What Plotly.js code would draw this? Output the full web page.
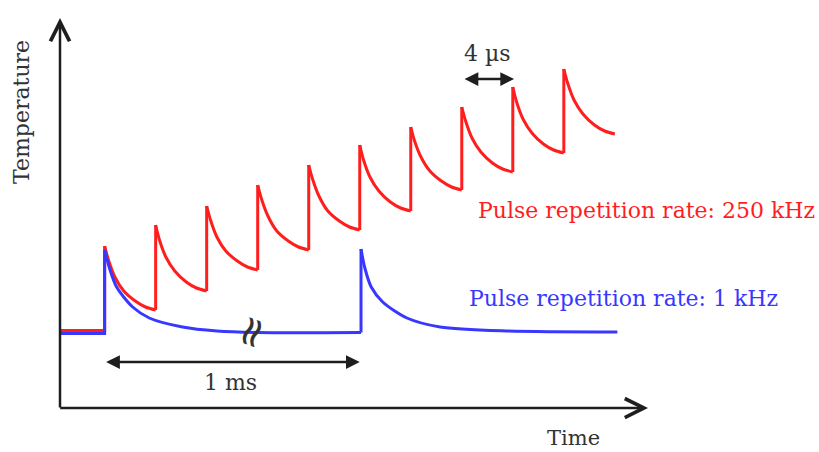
<!DOCTYPE html>
<html>
<head>
<meta charset="utf-8">
<script src="https://cdn.plot.ly/plotly-3.0.1.min.js"></script>
<style>html,body{margin:0;padding:0;background:#fff;}#chart{width:819px;height:452px;}</style>
</head>
<body>
<div id="chart"></div>
<script>
// ---- Data (time in µs-like arbitrary units, temperature in arbitrary units) ----
const redPreT = [-3.5, 0];
const redPreTemp = [7.75, 7.75];
const redPulseT = [0, 4, 8, 12, 16, 20, 24, 28, 32, 36];
const redBefore = [7.75, 9.8, 11.7, 13.8, 15.8, 17.8, 19.7, 21.8, 23.6, 25.5];
const redPeak = [16.2, 18.3, 20.2, 22.3, 24.3, 26.3, 28.1, 30.1, 32.1, 33.9];
const decayOffsets = [0, 0.3, 0.8, 1.5, 2.4, 3.2, 4.0];
const redDecayTemp = [
  [16.2, 14.8, 13.1, 11.7, 10.7, 10.1, 9.8],
  [18.3, 16.8, 15.1, 13.7, 12.6, 12.0, 11.7],
  [20.2, 18.8, 17.1, 15.7, 14.7, 14.1, 13.8],
  [22.3, 20.9, 19.2, 17.7, 16.7, 16.1, 15.8],
  [24.3, 22.9, 21.2, 19.7, 18.7, 18.1, 17.8],
  [26.3, 24.8, 23.1, 21.7, 20.6, 20.0, 19.7],
  [28.1, 26.7, 25.1, 23.7, 22.7, 22.1, 21.8],
  [30.1, 28.7, 27.0, 25.6, 24.5, 23.9, 23.6],
  [32.1, 30.6, 28.9, 27.5, 26.4, 25.8, 25.5],
  [33.9, 32.5, 30.8, 29.4, 28.3, 27.7, 27.4]
];

const bluePreT = [-3.5, 0];
const bluePreTemp = [7.45, 7.45];
const bluePulseT = [0, 20.1];
const blueBefore = [7.45, 7.55];
const bluePeak = [15.8, 15.9];
const blueDecayT = [
  [0, 0.4, 0.94, 2.2, 3.5, 6.1, 8.8, 12.0, 20.1],
  [20.1, 20.4, 20.9, 21.8, 23.7, 26.3, 31.5, 40.2]
];
const blueDecayTemp = [
  [15.8, 13.9, 12.1, 10.1, 9.0, 8.1, 7.7, 7.55, 7.55],
  [15.9, 14.0, 12.1, 10.6, 9.0, 8.1, 7.7, 7.6]
];

const labels = {
  yTitle: 'Temperature',
  xTitle: 'Time',
  red: 'Pulse repetition rate: 250 kHz',
  blue: 'Pulse repetition rate: 1 kHz',
  longSpan: '1 ms',
  shortSpan: '4 µs'
};

// ---- Build traces ----
const RED = 'rgb(255,30,30)';
const BLUE = 'rgb(55,55,255)';
const INK = '#1e1e1e';

function risesTrace(preT, preTemp, pulseT, before, peak, color) {
  const x = [], y = [];
  x.push(preT[0], preT[1]); y.push(preTemp[0], preTemp[1]);
  pulseT.forEach((t, i) => {
    if (i > 0) { x.push(null); y.push(null); }
    x.push(t, t); y.push(before[i], peak[i]);
  });
  return {x, y, type: 'scatter', mode: 'lines', line: {color, width: 3, shape: 'linear'}, hoverinfo: 'skip', showlegend: false};
}

function decayTrace(xs, ys, color) {
  const x = [], y = [];
  xs.forEach((arr, i) => {
    if (i > 0) { x.push(null); y.push(null); }
    arr.forEach((v, j) => { x.push(v); y.push(ys[i][j]); });
  });
  return {x, y, type: 'scatter', mode: 'lines', line: {color, width: 3, shape: 'spline', smoothing: 0.8}, connectgaps: false, hoverinfo: 'skip', showlegend: false};
}

const redDecayT = redPulseT.map(t => decayOffsets.map(o => t + o));

const traces = [
  risesTrace(redPreT, redPreTemp, redPulseT, redBefore, redPeak, RED),
  decayTrace(redDecayT, redDecayTemp, RED),
  risesTrace(bluePreT, bluePreTemp, bluePulseT, blueBefore, bluePeak, BLUE),
  decayTrace(blueDecayT, blueDecayTemp, BLUE)
];

const FONT = 'DejaVu Serif';

const annotations = [
  // axes as arrows
  {x: 42.6, y: 0, ax: -3.6, ay: 0, axref: 'x', ayref: 'y', xref: 'x', yref: 'y', text: '', showarrow: true,
   arrowhead: 5, arrowsize: 1.5, arrowwidth: 2.5, arrowcolor: INK, standoff: 0},
  {x: -3.5, y: 39, ax: -3.5, ay: -0.1, axref: 'x', ayref: 'y', xref: 'x', yref: 'y', text: '', showarrow: true,
   arrowhead: 5, arrowsize: 1.5, arrowwidth: 2.5, arrowcolor: INK, standoff: 0},
  // span arrows
  {x: 20.0, y: 4.6, ax: 0, ay: 4.6, axref: 'x', ayref: 'y', xref: 'x', yref: 'y', text: '', showarrow: true,
   arrowhead: 2, startarrowhead: 2, arrowside: 'end+start', arrowsize: 1.1, startarrowsize: 1.1, arrowwidth: 2.5, arrowcolor: INK, standoff: 0, startstandoff: 0},
  {x: 32.1, y: 32.9, ax: 28.1, ay: 32.9, axref: 'x', ayref: 'y', xref: 'x', yref: 'y', text: '', showarrow: true,
   arrowhead: 2, startarrowhead: 2, arrowside: 'end+start', arrowsize: 1.1, startarrowsize: 1.1, arrowwidth: 2.5, arrowcolor: INK, standoff: 0, startstandoff: 0},
  // texts
  {x: 9.9, y: 2.6, xref: 'x', yref: 'y', text: labels.longSpan, showarrow: false, font: {family: FONT, size: 22, color: '#333'}},
  {x: 30.0, y: 35.5, xref: 'x', yref: 'y', text: labels.shortSpan, showarrow: false, font: {family: FONT, size: 22, color: '#333'}},
  {x: 29.1, y: 19.8, xref: 'x', yref: 'y', xanchor: 'left', text: labels.red, showarrow: false, font: {family: FONT, size: 22, color: RED}},
  {x: 28.4, y: 11.0, xref: 'x', yref: 'y', xanchor: 'left', text: labels.blue, showarrow: false, font: {family: FONT, size: 22, color: BLUE}},
  {x: -0.0646, y: 0.759, xref: 'paper', yref: 'paper', xanchor: 'center', yanchor: 'middle', text: labels.yTitle, textangle: -90, showarrow: false, font: {family: FONT, size: 22, color: '#333'}},
  {x: 0.874, y: -0.078, xref: 'paper', yref: 'paper', xanchor: 'center', yanchor: 'middle', text: labels.xTitle, showarrow: false, font: {family: FONT, size: 21, color: '#333'}},
  // axis break mark
  {x: 11.4, y: 7.6, xref: 'x', yref: 'y', text: '≈', textangle: -70, showarrow: false, font: {family: 'DejaVu Sans', size: 42, color: '#333'}}
];

const layout = {
  width: 819, height: 452,
  margin: {l: 60, r: 171, t: 18, b: 44},
  paper_bgcolor: '#fff', plot_bgcolor: '#fff',
  showlegend: false,
  xaxis: {range: [-3.5, 42.6], visible: false, fixedrange: true},
  yaxis: {range: [0, 39], visible: false, fixedrange: true},
  annotations
};

Plotly.newPlot('chart', traces, layout, {staticPlot: true, displayModeBar: false});
</script>
</body>
</html>
